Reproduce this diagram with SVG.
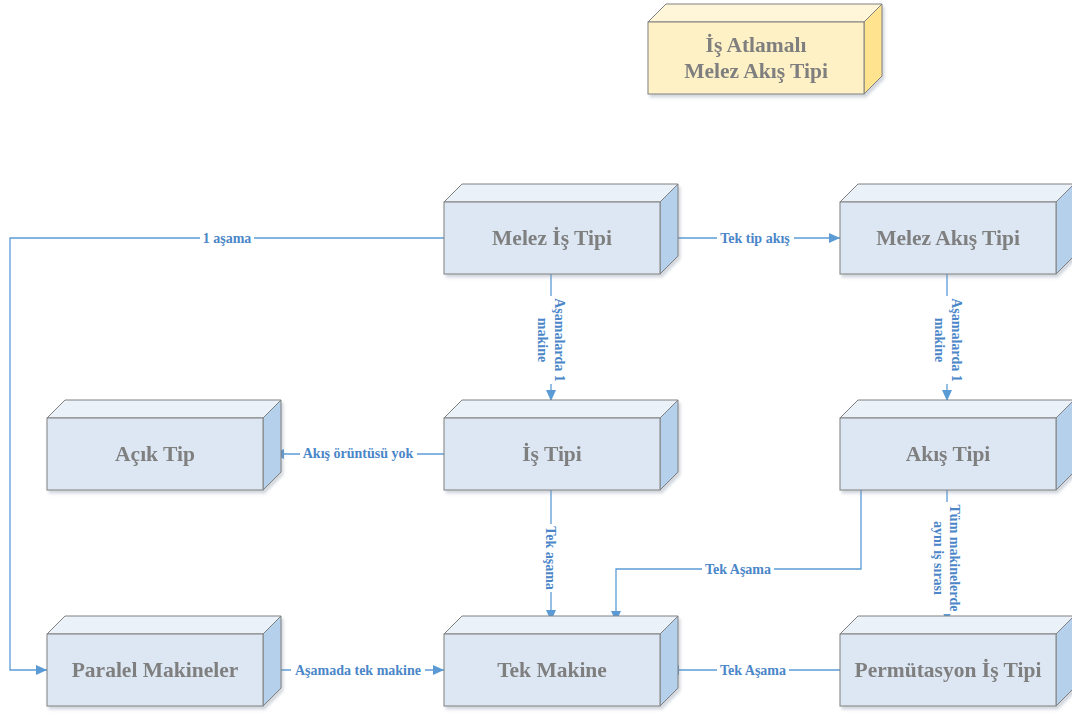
<svg xmlns="http://www.w3.org/2000/svg" width="1072" height="713" viewBox="0 0 1072 713">
  <style>
    .top { fill: #eaf1f9; stroke: #808080; stroke-width: 1; }
    .front { fill: #dce7f3; stroke: #808080; stroke-width: 1; }
    .side { fill: #b4d0ea; stroke: #808080; stroke-width: 1; }
    .ytop { fill: #fff5d8; stroke: #808080; stroke-width: 1; }
    .yfront { fill: #fff1c6; stroke: #808080; stroke-width: 1; }
    .yside { fill: #ffe38e; stroke: #808080; stroke-width: 1; }
    .name { font-family: "Liberation Serif", "Times New Roman", serif; font-weight: bold; font-size: 21.5px; fill: #7f7f7f; text-anchor: middle; }
    .wire { fill: none; stroke: #5b9bd5; stroke-width: 1.3; }
    .lbl { font-family: "Liberation Serif", "Times New Roman", serif; font-weight: bold; font-size: 14px; fill: #4a86c8; text-anchor: middle; }
    .bg { fill: #ffffff; }
  </style>
  <defs>
    <filter id="shade" x="-10%" y="-10%" width="130%" height="140%">
      <feDropShadow dx="2" dy="3" stdDeviation="1.6" flood-color="#7f8fa0" flood-opacity="0.35"/>
    </filter>
    <marker id="arrow" markerUnits="userSpaceOnUse" markerWidth="12" markerHeight="10" refX="11" refY="5" orient="auto">
      <path d="M0,0 L11,5 L0,10 Z" fill="#5b9bd5"/>
    </marker>
    <!-- 3D block, front face 216x72, depth 18 -->
    <g id="block">
      <path class="top" d="M0,0 L18,-18 L234,-18 L216,0 Z"/>
      <path class="side" d="M216,0 L234,-18 L234,54 L216,72 Z"/>
      <rect class="front" x="0" y="0" width="216" height="72"/>
    </g>
    <g id="yblock">
      <path class="ytop" d="M0,0 L18,-18 L234,-18 L216,0 Z"/>
      <path class="yside" d="M216,0 L234,-18 L234,54 L216,72 Z"/>
      <rect class="yfront" x="0" y="0" width="216" height="72"/>
    </g>
  </defs>

  <rect width="1072" height="713" fill="#ffffff"/>

  <!-- connectors -->
  <g id="connectors">
    <path class="wire" d="M444,238 L10,238 L10,670 L47,670" marker-end="url(#arrow)"/>
    <path class="wire" d="M669,238 L840,238" marker-end="url(#arrow)"/>
    <path class="wire" d="M551,273 L551,401" marker-end="url(#arrow)"/>
    <path class="wire" d="M947,273 L947,401" marker-end="url(#arrow)"/>
    <path class="wire" d="M444,454 L273,454" marker-end="url(#arrow)"/>
    <path class="wire" d="M551,490 L551,621" marker-end="url(#arrow)"/>
    <path class="wire" d="M861,490 L861,569 L616,569 L616,622" marker-end="url(#arrow)"/>
    <path class="wire" d="M947,490 L947,622" marker-end="url(#arrow)"/>
    <path class="wire" d="M273,670 L444,670" marker-end="url(#arrow)"/>
    <path class="wire" d="M840,670 L668,670" marker-end="url(#arrow)"/>

    <rect class="bg" x="200" y="231" width="54" height="15"/>
    <text class="lbl" x="227" y="243">1 aşama</text>

    <rect class="bg" x="717" y="231" width="77" height="15"/>
    <text class="lbl" x="755" y="243">Tek tip akış</text>

    <rect class="bg" x="532" y="296" width="38" height="88"/>
    <g transform="translate(551,340) rotate(90)">
      <text class="lbl" x="0" y="-4">Aşamalarda 1</text>
      <text class="lbl" x="0" y="13">makine</text>
    </g>

    <rect class="bg" x="928" y="296" width="38" height="88"/>
    <g transform="translate(948,340) rotate(90)">
      <text class="lbl" x="0" y="-4">Aşamalarda 1</text>
      <text class="lbl" x="0" y="13">makine</text>
    </g>

    <rect class="bg" x="300" y="446" width="117" height="15"/>
    <text class="lbl" x="358" y="458">Akış örüntüsü yok</text>

    <rect class="bg" x="543" y="524" width="16" height="68"/>
    <g transform="translate(551,558) rotate(90)">
      <text class="lbl" x="0" y="5">Tek aşama</text>
    </g>

    <rect class="bg" x="702" y="562" width="72" height="15"/>
    <text class="lbl" x="738" y="574">Tek Aşama</text>

    <rect class="bg" x="929" y="502" width="36" height="112"/>
    <g transform="translate(947,558) rotate(90)">
      <text class="lbl" x="0" y="-3">Tüm makinelerde</text>
      <text class="lbl" x="0" y="13">aynı iş sırası</text>
    </g>

    <rect class="bg" x="291" y="663" width="134" height="15"/>
    <text class="lbl" x="358" y="675">Aşamada tek makine</text>

    <rect class="bg" x="717" y="663" width="72" height="15"/>
    <text class="lbl" x="753" y="675">Tek Aşama</text>
  </g>

  <!-- nodes -->
  <g id="is-atlamali" filter="url(#shade)">
    <use href="#yblock" x="648" y="22"/>
    <text class="name" x="756" y="52">İş Atlamalı</text>
    <text class="name" x="756" y="78">Melez Akış Tipi</text>
  </g>
  <g id="melez-is-tipi" filter="url(#shade)">
    <use href="#block" x="444" y="202"/>
    <text class="name" x="552" y="245">Melez İş Tipi</text>
  </g>
  <g id="melez-akis-tipi" filter="url(#shade)">
    <use href="#block" x="840" y="202"/>
    <text class="name" x="948" y="245">Melez Akış Tipi</text>
  </g>
  <g id="acik-tip" filter="url(#shade)">
    <use href="#block" x="47" y="418"/>
    <text class="name" x="155" y="461">Açık Tip</text>
  </g>
  <g id="is-tipi" filter="url(#shade)">
    <use href="#block" x="444" y="418"/>
    <text class="name" x="552" y="461">İş Tipi</text>
  </g>
  <g id="akis-tipi" filter="url(#shade)">
    <use href="#block" x="840" y="418"/>
    <text class="name" x="948" y="461">Akış Tipi</text>
  </g>
  <g id="paralel-makineler" filter="url(#shade)">
    <use href="#block" x="47" y="634"/>
    <text class="name" x="155" y="677">Paralel Makineler</text>
  </g>
  <g id="tek-makine" filter="url(#shade)">
    <use href="#block" x="444" y="634"/>
    <text class="name" x="552" y="677">Tek Makine</text>
  </g>
  <g id="permutasyon-is-tipi" filter="url(#shade)">
    <use href="#block" x="840" y="634"/>
    <text class="name" x="948" y="677">Permütasyon İş Tipi</text>
  </g>
</svg>
